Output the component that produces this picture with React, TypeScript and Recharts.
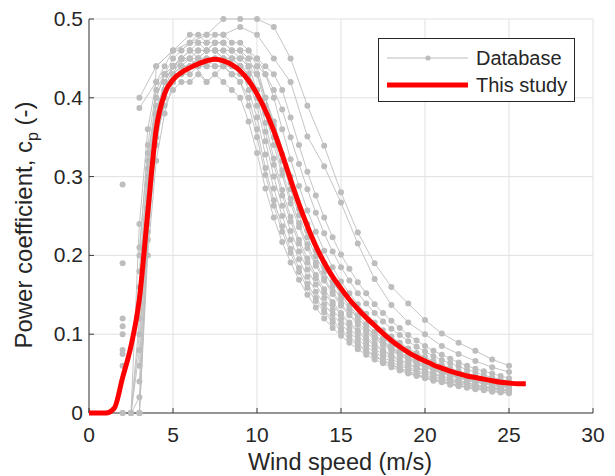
import React from 'react'
import { LineChart, Line, XAxis, YAxis, CartesianGrid } from 'recharts'

// wind speed grid shared by every series (m/s)
const speeds = [
  0, 0.5, 1, 1.5, 2, 2.5, 3, 3.5, 4, 4.5, 5, 5.5, 6, 6.5, 7, 7.5, 8, 8.5, 9, 9.5, 10,
  10.5, 11, 11.5, 12, 12.5, 13, 13.5, 14, 14.5, 15, 15.5, 16, 16.5, 17, 17.5, 18, 18.5,
  19, 19.5, 20, 20.5, 21, 21.5, 22, 22.5, 23, 23.5, 24, 24.5, 25, 25.5, 26,
]

// "This study" curve, one value per entry of speeds
const thisStudy = [
  0, 0, 0, 0.006, 0.045, 0.085, 0.145, 0.255, 0.36, 0.405, 0.423, 0.432, 0.438, 0.443,
  0.447, 0.449, 0.447, 0.442, 0.434, 0.422, 0.405, 0.384, 0.358, 0.328, 0.296, 0.265,
  0.237, 0.212, 0.191, 0.173, 0.158, 0.144, 0.132, 0.121, 0.111, 0.101, 0.092, 0.084,
  0.077, 0.071, 0.066, 0.061, 0.057, 0.053, 0.05, 0.047, 0.045, 0.043, 0.041, 0.039,
  0.038, 0.037, 0.037,
]

// database turbines sampled every 0.5 m/s, from 2 m/s to 25 m/s
const halfStart = 2
const db01 = [0, 0, 0.10, 0.26, 0.35, 0.39, 0.41, 0.42, 0.42, 0.43, 0.42, 0.43, 0.42, 0.41, 0.40, 0.37, 0.33, 0.285, 0.248, 0.217, 0.191, 0.169, 0.150, 0.134, 0.120, 0.108, 0.098, 0.089, 0.081, 0.074, 0.068, 0.063, 0.058, 0.054, 0.050, 0.047, 0.044, 0.041, 0.039, 0.036, 0.034, 0.032, 0.030, 0.029, 0.027, 0.026, 0.025]
const db02 = [0.12, null, 0.18, 0.31, 0.38, 0.41, 0.43, 0.44, 0.44, 0.45, 0.44, 0.45, 0.44, 0.43, 0.42, 0.39, 0.35, 0.302, 0.263, 0.230, 0.203, 0.179, 0.159, 0.142, 0.128, 0.115, 0.104, 0.094, 0.086, 0.078, 0.072, 0.066, 0.061, 0.056, 0.052, 0.048, 0.045, 0.042, 0.040, 0.037, 0.035, 0.033, 0.031, 0.030, 0.028, 0.027, 0.026]
const db03 = [null, 0, 0.02, 0.22, 0.34, 0.40, 0.43, 0.45, 0.46, 0.46, 0.46, 0.46, 0.45, 0.45, 0.44, 0.41, 0.375, 0.328, 0.285, 0.250, 0.220, 0.195, 0.173, 0.154, 0.138, 0.125, 0.113, 0.102, 0.093, 0.085, 0.077, 0.071, 0.065, 0.060, 0.056, 0.052, 0.048, 0.045, 0.042, 0.040, 0.037, 0.035, 0.033, 0.031, 0.030, 0.029, 0.028]
const db04 = [0.10, null, 0.21, 0.33, 0.39, 0.41, 0.42, 0.43, 0.43, 0.44, 0.44, 0.44, 0.44, 0.43, 0.43, 0.42, 0.39, 0.345, 0.300, 0.263, 0.231, 0.205, 0.182, 0.163, 0.146, 0.131, 0.119, 0.107, 0.098, 0.089, 0.081, 0.075, 0.069, 0.063, 0.058, 0.054, 0.050, 0.047, 0.044, 0.041, 0.039, 0.036, 0.034, 0.032, 0.031, 0.029, 0.028]
const db05 = [0.19, null, 0.14, 0.30, 0.40, 0.43, 0.45, 0.46, 0.47, 0.47, 0.47, 0.47, 0.47, 0.46, 0.46, 0.44, 0.41, 0.368, 0.323, 0.283, 0.249, 0.220, 0.196, 0.175, 0.157, 0.141, 0.127, 0.115, 0.105, 0.096, 0.088, 0.080, 0.074, 0.068, 0.063, 0.058, 0.054, 0.050, 0.047, 0.044, 0.041, 0.039, 0.036, 0.034, 0.033, 0.031, 0.030]
const db06 = [0.08, null, 0.06, 0.25, 0.36, 0.41, 0.43, 0.44, 0.44, 0.45, 0.45, 0.45, 0.45, 0.44, 0.44, 0.43, 0.41, 0.38, 0.340, 0.302, 0.266, 0.236, 0.209, 0.187, 0.168, 0.151, 0.136, 0.124, 0.112, 0.102, 0.094, 0.086, 0.079, 0.073, 0.067, 0.062, 0.058, 0.054, 0.050, 0.047, 0.044, 0.041, 0.039, 0.037, 0.035, 0.033, 0.032]
const db07 = [null, 0, 0.24, 0.36, 0.42, 0.44, 0.46, 0.46, 0.47, 0.48, 0.47, 0.48, 0.48, 0.47, 0.47, 0.46, 0.44, 0.40, 0.360, 0.320, 0.284, 0.251, 0.223, 0.199, 0.179, 0.161, 0.145, 0.132, 0.120, 0.109, 0.100, 0.091, 0.084, 0.077, 0.071, 0.066, 0.061, 0.057, 0.053, 0.050, 0.046, 0.043, 0.041, 0.038, 0.036, 0.034, 0.033]
const db08 = [0.06, null, 0, 0.20, 0.32, 0.38, 0.42, 0.44, 0.45, 0.45, 0.46, 0.46, 0.46, 0.45, 0.45, 0.44, 0.43, 0.40, 0.365, 0.328, 0.292, 0.259, 0.231, 0.206, 0.185, 0.167, 0.150, 0.136, 0.124, 0.113, 0.103, 0.095, 0.087, 0.080, 0.074, 0.069, 0.064, 0.059, 0.055, 0.051, 0.048, 0.045, 0.042, 0.040, 0.038, 0.036, 0.034]
const db09 = [0.11, null, 0.16, 0.32, 0.40, 0.43, 0.44, 0.45, 0.46, 0.46, 0.46, 0.47, 0.47, 0.46, 0.46, 0.46, 0.45, 0.43, 0.40, 0.360, 0.322, 0.288, 0.257, 0.230, 0.206, 0.185, 0.167, 0.152, 0.138, 0.126, 0.115, 0.105, 0.097, 0.089, 0.082, 0.076, 0.071, 0.066, 0.061, 0.057, 0.053, 0.050, 0.047, 0.044, 0.041, 0.039, 0.037]
const db10 = [0.075, null, 0.20, 0.34, 0.41, 0.43, 0.44, 0.44, 0.44, 0.45, 0.45, 0.45, 0.45, 0.45, 0.45, 0.44, 0.44, 0.43, 0.41, 0.385, 0.350, 0.316, 0.284, 0.254, 0.228, 0.205, 0.185, 0.168, 0.152, 0.139, 0.127, 0.116, 0.107, 0.099, 0.091, 0.084, 0.078, 0.072, 0.067, 0.063, 0.059, 0.055, 0.052, 0.048, 0.045, 0.043, 0.040]
const db11 = [0, 0, 0.08, 0.27, 0.38, 0.42, 0.44, 0.45, 0.45, 0.46, 0.46, 0.46, 0.46, 0.46, 0.45, 0.45, 0.45, 0.44, 0.43, 0.41, 0.375, 0.340, 0.306, 0.276, 0.248, 0.223, 0.201, 0.183, 0.166, 0.152, 0.138, 0.127, 0.117, 0.108, 0.099, 0.092, 0.085, 0.079, 0.074, 0.069, 0.064, 0.060, 0.056, 0.053, 0.050, 0.047, 0.044]
const db12 = [null, 0, 0, 0.23, 0.37, 0.42, 0.44, 0.45, 0.45, 0.44, 0.45, 0.44, 0.44, 0.43, 0.42, 0.40, 0.36, 0.311, 0.270, 0.237, 0.208, 0.184, 0.164, 0.146, 0.131, 0.118, 0.107, 0.097, 0.088, 0.080, 0.073, 0.067, 0.062, 0.057, 0.053, 0.049, 0.046, 0.043, 0.040, 0.038, 0.035, 0.033, 0.031, 0.030, 0.028, 0.027, 0.026]
const db13 = [null, 0, 0.12, 0.29, 0.38, 0.42, 0.44, 0.45, 0.46, 0.45, 0.46, 0.46, 0.45, 0.45, 0.44, 0.43, 0.40, 0.357, 0.315, 0.276, 0.243, 0.215, 0.191, 0.171, 0.153, 0.138, 0.124, 0.113, 0.103, 0.093, 0.086, 0.078, 0.072, 0.066, 0.061, 0.057, 0.053, 0.049, 0.046, 0.043, 0.040, 0.038, 0.035, 0.033, 0.032, 0.030, 0.029]
const db14 = [0.29, null, 0.04, 0.24, 0.35, 0.41, 0.44, 0.45, 0.46, 0.47, 0.46, 0.47, 0.47, 0.46, 0.46, 0.45, 0.43, 0.39, 0.350, 0.308, 0.272, 0.241, 0.214, 0.191, 0.171, 0.154, 0.139, 0.126, 0.115, 0.105, 0.096, 0.088, 0.081, 0.074, 0.069, 0.063, 0.059, 0.055, 0.051, 0.048, 0.045, 0.042, 0.040, 0.038, 0.036, 0.034, 0.033]
const halfStep = [db01, db02, db03, db04, db05, db06, db07, db08, db09, db10, db11, db12, db13, db14]

// database turbines sampled every 1 m/s
const wholeSpeeds = [2, 3, 4, 5, 6, 7, 8, 9, 10, 11, 12, 13, 14, 15, 16, 17, 18, 19, 20, 21, 22, 23, 24, 25]
const dbW1 = [null, 0, 0.44, 0.46, 0.48, 0.48, 0.50, 0.50, 0.50, 0.49, 0.45, 0.39, 0.339, 0.28, 0.229, 0.19, 0.16, 0.139, 0.118, 0.101, 0.089, 0.079, 0.068, 0.060]
const dbW2 = [null, 0.40, 0.44, 0.46, 0.47, 0.48, 0.48, 0.49, 0.48, 0.45, 0.42, 0.351, 0.313, 0.267, 0.215, 0.17, 0.137, 0.115, 0.10, 0.085, 0.075, 0.066, 0.058, 0.052]
const dbW3 = [null, 0.387, 0.42, 0.44, 0.45, 0.42, 0.44, 0.44, 0.43, 0.37, 0.30, 0.24, 0.19, 0.15, 0.12, 0.098, 0.082, 0.070, 0.060, 0.052, 0.046, 0.041, 0.037, 0.034]
const wholeStep = [dbW1, dbW2, dbW3]

const xTicks = [0, 5, 10, 15, 20, 25, 30]
const yTicks = [0, 0.1, 0.2, 0.3, 0.4, 0.5]

const rows = speeds.map((ws, i) => {
  const row: any = { ws, study: thisStudy[i] }
  const j = Math.round((ws - halfStart) / 0.5)
  halfStep.forEach((s, k) => {
    if (j >= 0 && j < s.length && s[j] !== null) row['h' + k] = s[j]
  })
  const w = wholeSpeeds.indexOf(ws)
  wholeStep.forEach((s, k) => {
    if (w >= 0 && s[w] !== null) row['w' + k] = s[w]
  })
  return row
})

const FONT = '"Liberation Sans", Arial, Helvetica, sans-serif'
const TEXT = '#262626'
const AXIS = '#3a3a3a'
const GRAY = '#bdbdbd'
const DOT_R = 3
const W = 600
const H = 468
const Y_AXIS_W = 81
const X_AXIS_H = 63
const MARGIN = { top: 11, right: 15, bottom: 0, left: 0 }
// same plot box for the overlay chart, whose axes are hidden
const OVERLAY_MARGIN = { top: 11, right: 15, bottom: X_AXIS_H, left: Y_AXIS_W }

const XTick = ({ x, y, payload }: any) => (
  <g>
    <line x1={x} y1={y} x2={x} y2={y - 5} stroke={AXIS} strokeWidth={1} />
    <text x={x} y={y + 29} textAnchor="middle" fontSize={21} fill={TEXT} fontFamily={FONT}>
      {payload.value}
    </text>
  </g>
)

const YTick = ({ x, y, payload }: any) => (
  <g>
    <line x1={x} y1={y} x2={x + 5} y2={y} stroke={AXIS} strokeWidth={1} />
    <text x={x - 6} y={y + 7} textAnchor="end" fontSize={21} fill={TEXT} fontFamily={FONT}>
      {payload.value}
    </text>
  </g>
)

const YLabel = ({ viewBox }: any) => {
  const cx = 24
  const cy = viewBox ? viewBox.y + viewBox.height / 2 + 9 : 217
  return (
    <text
      x={cx}
      y={cy}
      transform={`rotate(-90, ${cx}, ${cy})`}
      textAnchor="middle"
      fontSize={24}
      fill={TEXT}
      fontFamily={FONT}
    >
      Power coefficient, c
      <tspan dy={6} fontSize={16}>p</tspan>
      <tspan dy={-6}> (-)</tspan>
    </text>
  )
}

const XLabel = ({ viewBox }: any) => {
  const cx = viewBox ? viewBox.x + viewBox.width / 2 - 1 : 332
  return (
    <text x={cx} y={462} textAnchor="middle" fontSize={23.5} fill={TEXT} fontFamily={FONT}>
      Wind speed (m/s)
    </text>
  )
}

function LegendBox() {
  return (
    <div
      style={{
        position: 'absolute',
        left: 370,
        top: 30,
        width: 197,
        height: 64,
        boxSizing: 'border-box',
        border: '1px solid #262626',
        background: '#fff',
      }}
    >
      <svg width={195} height={62} style={{ display: 'block' }}>
        <line x1={8} y1={19} x2={89} y2={19} stroke={GRAY} strokeWidth={1} />
        <circle cx={49} cy={19} r={2.6} fill={GRAY} />
        <text x={97} y={26} fontSize={20} fill={TEXT} fontFamily={FONT}>Database</text>
        <line x1={8} y1={46} x2={89} y2={46} stroke="#ff0000" strokeWidth={5} />
        <text x={97} y={53} fontSize={20} fill={TEXT} fontFamily={FONT}>This study</text>
      </svg>
    </div>
  )
}

export default function App() {
  return (
    <div style={{ position: 'relative', width: W, height: H }}>
      <LineChart width={W} height={H} data={rows} margin={MARGIN}>
        <CartesianGrid stroke="#e1e1e1" strokeWidth={1} />
        <XAxis
          dataKey="ws"
          type="number"
          domain={[0, 30]}
          ticks={xTicks}
          height={X_AXIS_H}
          tickSize={0}
          tickMargin={0}
          tickLine={false}
          axisLine={{ stroke: AXIS, strokeWidth: 1 }}
          tick={<XTick />}
          label={<XLabel />}
          interval={0}
        />
        <YAxis
          type="number"
          domain={[0, 0.5]}
          ticks={yTicks}
          width={Y_AXIS_W}
          tickSize={0}
          tickMargin={0}
          tickLine={false}
          axisLine={{ stroke: AXIS, strokeWidth: 1 }}
          tick={<YTick />}
          label={<YLabel />}
          interval={0}
        />
        {halfStep.map((_, k) => (
          <Line
            key={'h' + k}
            dataKey={'h' + k}
            type="linear"
            stroke={GRAY}
            strokeWidth={0.9}
            dot={{ r: DOT_R, fill: GRAY, stroke: 'none' }}
            activeDot={false}
            isAnimationActive={false}
          />
        ))}
        {wholeStep.map((_, k) => (
          <Line
            key={'w' + k}
            dataKey={'w' + k}
            type="linear"
            connectNulls
            stroke={GRAY}
            strokeWidth={0.9}
            dot={{ r: DOT_R, fill: GRAY, stroke: 'none' }}
            activeDot={false}
            isAnimationActive={false}
          />
        ))}
      </LineChart>
      {/* second chart on top so the red curve sits above the gray markers */}
      <div style={{ position: 'absolute', left: 0, top: 0, pointerEvents: 'none' }}>
        <LineChart width={W} height={H} data={rows} margin={OVERLAY_MARGIN}>
          <XAxis dataKey="ws" type="number" domain={[0, 30]} ticks={xTicks} hide />
          <YAxis type="number" domain={[0, 0.5]} ticks={yTicks} hide />
          <Line
            dataKey="study"
            type="monotone"
            stroke="#ff0000"
            strokeWidth={5}
            dot={false}
            activeDot={false}
            isAnimationActive={false}
          />
        </LineChart>
      </div>
      <LegendBox />
    </div>
  )
}
